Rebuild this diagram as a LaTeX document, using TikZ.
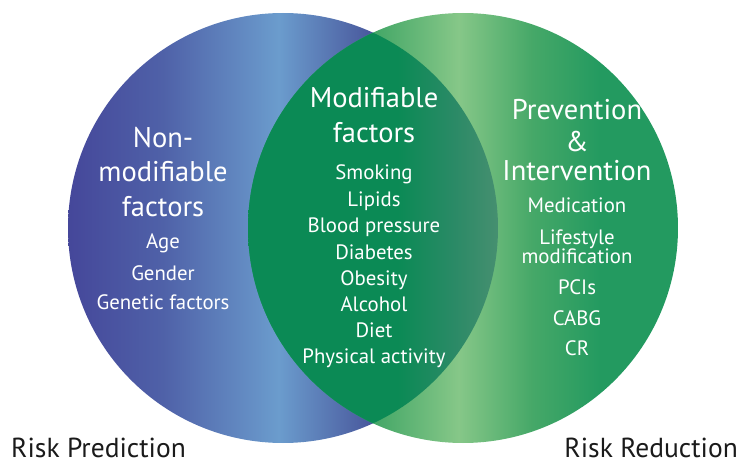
\documentclass[tikz,border=0pt]{standalone}
\usepackage{fontspec}
\setmainfont{PT Sans}
\usepackage{tikz}
\usetikzlibrary{positioning}

\definecolor{bluedark}{RGB}{69,71,154}
\definecolor{bluemid}{RGB}{79,97,168}
\definecolor{bluelight}{RGB}{107,156,205}
\definecolor{blueside}{RGB}{74,90,158}
\definecolor{greenedge}{RGB}{35,154,96}
\definecolor{greenmid}{RGB}{70,168,104}
\definecolor{greenlight}{RGB}{134,199,136}
\definecolor{lensdark}{RGB}{11,138,85}
\definecolor{lensgrey}{RGB}{42,138,102}
\definecolor{lensedge}{RGB}{70,143,112}
\definecolor{riskgrey}{RGB}{26,26,26}

\pgfdeclarehorizontalshading{bluecirc}{100bp}{color(0bp)=(bluedark); color(25bp)=(bluedark);
  color(36bp)=(bluemid); color(49.5bp)=(bluelight); color(60bp)=(blueside); color(100bp)=(blueside)}
\pgfdeclarehorizontalshading{greencirc}{100bp}{color(0bp)=(greenedge); color(25bp)=(greenedge);
  color(40bp)=(greenmid); color(49.5bp)=(greenlight); color(58bp)=(greenmid); color(66bp)=(greenedge);
  color(100bp)=(greenedge)}
\pgfdeclarehorizontalshading{lenscirc}{100bp}{color(0bp)=(lensdark); color(25bp)=(lensdark);
  color(55bp)=(lensdark); color(66bp)=(lensgrey); color(75bp)=(lensedge); color(100bp)=(lensedge)}

\begin{document}
\begin{tikzpicture}[x=1pt,y=-1pt]
      \tikzstyle{head} = [text=white, inner sep=0pt, anchor=base,
      font=\fontsize{28.5}{28.5}\selectfont] \tikzstyle{item} = [text=white,
      inner sep=0pt, anchor=base, font=\fontsize{20.8}{20.8}\selectfont]
      \tikzstyle{risk} = [text=riskgrey, inner sep=0pt,
      font=\fontsize{27.5}{27.5}\selectfont]
      \useasboundingbox (0,0) rectangle (739,465);
      % CIRCLES
      \shade[shading=bluecirc] (283,228) circle[radius=215pt];
      \shade[shading=greencirc] (463,228) circle[radius=215pt];
      \begin{scope}
        \clip (283,228) circle[radius=215pt];
        \clip (463,228) circle[radius=215pt];
        \shade[shading=lenscirc] (248,13) rectangle (498,443);
      \end{scope}
      % LEFT
      \node[head] (non) at (163,148) {Non-};
      \node[head] (nonmod) at (163,182) {modifiable};
      \node[head] (nonfac) at (163,217) {factors};
      \foreach \txt/\yy [count=\i] in {Age/249, Gender/280, Genetic factors/309}
        \node[item] (left\i) at (163,\yy) {\txt};
      % MIDDLE
      \node[head] (mod) at (374,108) {Modifiable};
      \node[head] (modfac) at (374,143) {factors};
      \foreach \txt/\yy [count=\i] in {Smoking/180, Lipids/207,
        Blood pressure/233, Diabetes/259, Obesity/285, Alcohol/311,
        Diet/337, Physical activity/363}
        \node[item] (mid\i) at (374,\yy) {\txt};
      % RIGHT
      \node[head] (prev) at (577,120) {Prevention};
      \node[head] (amp) at (577,152) {\&};
      \node[head] (inter) at (577,181) {Intervention};
      \foreach \txt/\yy [count=\i] in {Medication/213, Lifestyle/244,
        modification/263, PCIs/294, CABG/325, CR/355}
        \node[item] (right\i) at (577,\yy) {\txt};
      % LABELS
      \node[risk, anchor=base west] (pred) at (11,457) {Risk Prediction};
      \node[risk, anchor=base east] (red) at (738,457) {Risk Reduction};
\end{tikzpicture}
\end{document}
